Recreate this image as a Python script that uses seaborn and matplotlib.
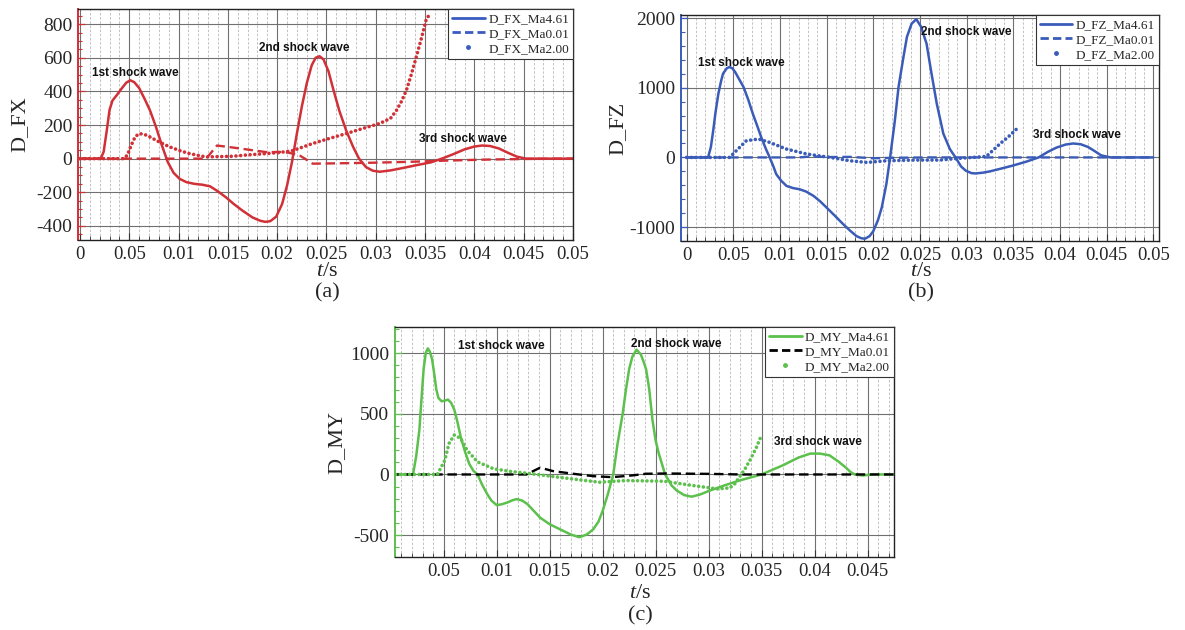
import matplotlib
matplotlib.use("Agg")
import numpy as np
import pandas as pd
import matplotlib.pyplot as plt
import seaborn as sns
from matplotlib.lines import Line2D
from matplotlib.ticker import MultipleLocator, FixedLocator, FixedFormatter

# ---------------- data ----------------
# Panel (a) D_FX
fx_461_t = [0, 0.0021, 0.0024, 0.0027, 0.003, 0.0033, 0.0037, 0.0042, 0.0047, 0.0051, 0.0055,
            0.006, 0.0066, 0.0071, 0.0077, 0.0083, 0.0089, 0.0095, 0.0101, 0.0108, 0.0116,
            0.0124, 0.0132, 0.014, 0.0148, 0.0156, 0.0165, 0.0175, 0.0183, 0.0188, 0.0193,
            0.0199, 0.0205, 0.021, 0.0215, 0.022, 0.0225, 0.023, 0.0235, 0.0239, 0.0243,
            0.0247, 0.0252, 0.0257, 0.0263, 0.027, 0.0277, 0.0283, 0.029, 0.0297, 0.0304,
            0.0315, 0.0328, 0.0342, 0.0356, 0.0367, 0.0378, 0.039, 0.04, 0.0408, 0.0416,
            0.0425, 0.0434, 0.0443, 0.0452, 0.047, 0.05]
fx_461_v = [0, 0, 40, 160, 290, 346, 375, 415, 452, 466, 455,
            420, 350, 287, 190, 80, -20, -85, -120, -140, -150,
            -155, -165, -195, -230, -270, -310, -350, -370, -376, -372,
            -345, -270, -160, -20, 150, 310, 448, 555, 600, 609,
            590, 520, 410, 285, 167, 70, 0, -50, -72, -78,
            -70, -55, -38, -22, 0, 25, 55, 72, 78, 75,
            60, 35, 12, 0, 0, 0]
fx_001_t = [0, 0.0128, 0.0139, 0.0155, 0.0175, 0.019, 0.0202, 0.0212, 0.0223, 0.0228, 0.0236,
            0.026, 0.03, 0.034, 0.037, 0.041, 0.045, 0.05]
fx_001_v = [0, 0, 78, 66, 50, 38, 40, 35, 18, 0, -30,
            -28, -24, -18, -12, -6, -2, 0]
fx_200_t = [0, 0.0044, 0.0048, 0.0052, 0.0056, 0.006, 0.0065, 0.007, 0.0081, 0.0091, 0.0101,
            0.0111, 0.0121, 0.0128, 0.014, 0.0155, 0.017, 0.0189, 0.0202, 0.0216, 0.0236,
            0.025, 0.027, 0.029, 0.0304, 0.0315, 0.0321, 0.0326, 0.0331, 0.0336, 0.0341,
            0.0346, 0.0351, 0.0354]
fx_200_v = [0, 0, 20, 80, 130, 149, 145, 132, 97, 70, 48,
            30, 18, 10, 12, 14, 22, 30, 36, 48, 90,
            115, 149, 185, 209, 240, 287, 340, 406, 500, 603,
            710, 824, 854]

# Panel (b) D_FZ
fz_461_t = [0, 0.0023, 0.0026, 0.00285, 0.0031, 0.0034, 0.0037, 0.0039, 0.0043, 0.0046,
            0.0049, 0.0052, 0.0056, 0.0061, 0.0066, 0.0071, 0.0076, 0.008, 0.0085, 0.0089,
            0.0093, 0.0096, 0.0101, 0.0107, 0.0114, 0.0121, 0.0128, 0.0136, 0.0143, 0.015,
            0.0159, 0.0168, 0.0175, 0.0182, 0.0187, 0.0191, 0.0196, 0.02, 0.0205, 0.0209,
            0.0214, 0.0218, 0.0223, 0.0227, 0.0232, 0.0236, 0.0241, 0.0246, 0.0251, 0.0257,
            0.0262, 0.0268, 0.0275, 0.0282, 0.0288, 0.0294, 0.0299, 0.0305, 0.0309, 0.0317,
            0.0325, 0.0337, 0.035, 0.0364, 0.0377, 0.0387, 0.0396, 0.0406, 0.0414, 0.0422,
            0.043, 0.0436, 0.0444, 0.0454, 0.05]
fz_461_v = [0, 0, 150, 385, 650, 913, 1100, 1202, 1280, 1298,
            1280, 1226, 1130, 1010, 830, 625, 440, 288, 120, 0,
            -130, -240, -330, -409, -440, -457, -490, -553, -630, -721,
            -840, -962, -1050, -1130, -1160, -1168, -1130, -1058, -900, -721,
            -380, 0, 520, 1010, 1420, 1731, 1920, 1985, 1880, 1635,
            1230, 769, 341, 120, 0, -130, -190, -225, -230, -220,
            -200, -160, -115, -60, 0, 80, 140, 185, 200, 190,
            150, 100, 30, 0, 0]
fz_001_t = [0, 0.012, 0.0135, 0.015, 0.0175, 0.02, 0.0225, 0.026, 0.05]
fz_001_v = [0, 0, 15, 5, 8, -12, -5, 0, 0]
fz_200_t = [0, 0.0046, 0.0055, 0.0064, 0.0077, 0.0089, 0.0107, 0.0129, 0.0154, 0.0175,
            0.0193, 0.0214, 0.0243, 0.0271, 0.0295, 0.0321, 0.0328, 0.0336, 0.0345, 0.0354]
fz_200_v = [0, 0, 120, 240, 264, 216, 120, 48, 0, -48,
            -72, -48, -38, -38, -10, 14, 100, 200, 300, 415]

# Panel (c) D_MY
my_461_t = [0, 0.0021, 0.0024, 0.0027, 0.0029, 0.0031, 0.0033, 0.0035, 0.0037, 0.0039,
            0.0041, 0.0043, 0.0045, 0.0048, 0.0051, 0.0054, 0.0057, 0.006, 0.0063, 0.0066,
            0.007, 0.0074, 0.0078, 0.0082, 0.0086, 0.0091, 0.0095, 0.01, 0.0105, 0.011,
            0.0115, 0.0119, 0.0124, 0.0129, 0.0135, 0.0141, 0.015, 0.016, 0.017, 0.0178,
            0.0185, 0.0191, 0.0196, 0.02, 0.0205, 0.021, 0.0214, 0.0219, 0.0222, 0.0225,
            0.0228, 0.0232, 0.0236, 0.0239, 0.0241, 0.0244, 0.0247, 0.025, 0.0253, 0.0259,
            0.0265, 0.027, 0.0277, 0.0284, 0.0292, 0.0301, 0.0315, 0.0329, 0.035, 0.037,
            0.0385, 0.0396, 0.0405, 0.0414, 0.0422, 0.0429, 0.0434, 0.0438, 0.0445, 0.0455,
            0.0475]
my_461_v = [0, 0, 150, 367, 620, 867, 1000, 1039, 1010, 950,
            830, 700, 630, 603, 608, 617, 590, 533, 430, 311,
            190, 89, 30, 0, -80, -161, -215, -253, -245, -231,
            -212, -203, -215, -244, -300, -356, -410, -453, -495, -517,
            -495, -453, -390, -300, -160, 0, 250, 506, 700, 867,
            970, 1028, 990, 920, 867, 700, 450, 280, 172, 0,
            -90, -133, -170, -183, -165, -133, -90, -50, 0, 75,
            140, 172, 172, 158, 110, 61, 20, 0, -8, 0,
            0]
my_001_t = [0, 0.0128, 0.0141, 0.0153, 0.0172, 0.0191, 0.0209, 0.0228, 0.0241, 0.026, 0.03,
            0.033, 0.0475]
my_001_v = [0, 0, 56, 28, 6, -14, -22, -8, 6, 8, 5, 0, 0]
my_200_t = [0, 0.0044, 0.0051, 0.0055, 0.006, 0.0066, 0.0072, 0.0082, 0.0097, 0.0113,
            0.0128, 0.0153, 0.0178, 0.0197, 0.0222, 0.0258, 0.0286, 0.0308, 0.032, 0.0325,
            0.0329, 0.0334, 0.0339, 0.0345, 0.035]
my_200_v = [0, 0, 117, 256, 325, 297, 200, 103, 47, 25,
            11, -17, -44, -64, -50, -56, -92, -119, -111, -75,
            -22, 40, 117, 220, 325]

xticks_ab = [0, 0.005, 0.01, 0.015, 0.02, 0.025, 0.03, 0.035, 0.04, 0.045, 0.05]
xlabels_ab = ["0", "0.05", "0.01", "0.015", "0.02", "0.025", "0.03", "0.035", "0.04", "0.045", "0.05"]
xticks_c = [0.005, 0.01, 0.015, 0.02, 0.025, 0.03, 0.035, 0.04, 0.045]
xlabels_c = ["0.05", "0.01", "0.015", "0.02", "0.025", "0.03", "0.035", "0.04", "0.045"]
yticks_a = [-400, -200, 0, 200, 400, 600, 800]
yticks_b = [-1000, 0, 1000, 2000]
yticks_c = [-500, 0, 500, 1000]

labels_a = ["D_FX_Ma4.61", "D_FX_Ma0.01", "D_FX_Ma2.00"]
labels_b = ["D_FZ_Ma4.61", "D_FZ_Ma0.01", "D_FZ_Ma2.00"]
labels_c = ["D_MY_Ma4.61", "D_MY_Ma0.01", "D_MY_Ma2.00"]
waves = ["1st shock wave", "2nd shock wave", "3rd shock wave"]

# ---------------- style ----------------
sns.set_style("ticks")
plt.rcParams["font.family"] = ["Liberation Serif", "DejaVu Serif"]
plt.rcParams["mathtext.fontset"] = "custom"
plt.rcParams["mathtext.it"] = "Liberation Serif:italic"
plt.rcParams["mathtext.rm"] = "Liberation Serif"
plt.rcParams["axes.unicode_minus"] = False

RED = "#d03036"
BLUE = "#3a5cb8"
GREEN = "#5cc04c"
LEG_BLUE = "#3a5cc0"

DASH = (0, (4, 2))
DOT = (0, (0.01, 1.3))

fig = plt.figure(figsize=(11.85, 6.3), dpi=100)
W, H = 1185, 630


def add_axes_px(x0, y0, x1, y1):
    return fig.add_axes([x0 / W, 1 - y1 / H, (x1 - x0) / W, (y1 - y0) / H])


def draw_series(ax, t, v, color, style, lw):
    df = pd.DataFrame({"t": t, "v": v})
    kw = dict(data=df, x="t", y="v", ax=ax, color=color, estimator=None, sort=False,
              legend=False, lw=lw)
    if style == "dot":
        sns.lineplot(**kw, linestyle=DOT, dash_capstyle="round")
    elif style == "dash":
        sns.lineplot(**kw, linestyle=DASH)
    else:
        sns.lineplot(**kw, solid_joinstyle="round")


def style_axes(ax, xlim, ylim, xticks, xlabels, yticks, yminor, scol, ylabel):
    ax.set_xlim(*xlim)
    ax.set_ylim(*ylim)
    ax.xaxis.set_major_locator(FixedLocator(xticks))
    ax.xaxis.set_major_formatter(FixedFormatter(xlabels))
    ax.xaxis.set_minor_locator(MultipleLocator(0.001))
    ax.yaxis.set_major_locator(FixedLocator(yticks))
    ax.yaxis.set_minor_locator(MultipleLocator(yminor))
    ax.set_axisbelow(True)
    ax.grid(which="major", axis="x", color="#707070", lw=0.8, ls="-")
    ax.grid(which="minor", axis="x", color="#b8b8b8", lw=0.6, ls=(0, (3, 2)))
    ax.grid(which="major", axis="y", color="#707070", lw=0.8, ls="-")
    for s in ["top", "right", "bottom"]:
        ax.spines[s].set_visible(True)
        ax.spines[s].set_color("#222222")
        ax.spines[s].set_linewidth(1.0)
    ax.spines["left"].set_color(scol)
    ax.spines["left"].set_linewidth(1.4)
    ax.tick_params(axis="x", which="major", direction="in", length=5, width=0.8,
                   labelsize=13.5, pad=4, color="#333333")
    ax.tick_params(axis="x", which="minor", direction="in", length=3, width=0.6, color="#333333")
    ax.tick_params(axis="y", which="major", direction="in", length=5, width=0.9,
                   labelsize=14, pad=4, color=scol)
    ax.tick_params(axis="y", which="minor", direction="in", length=3, width=0.8, color=scol)
    ax.set_xlabel("")
    ax.set_ylabel(ylabel, fontsize=16, labelpad=6)


def add_legend(ax, labels, c_solid, c_dash, c_dot):
    handles = [Line2D([], [], color=c_solid, lw=2.0),
               Line2D([], [], color=c_dash, lw=2.0, ls=(0, (3, 1.5))),
               Line2D([], [], color=c_dot, ls="none", marker="o", markersize=2.5)]
    leg = ax.legend(handles, labels, loc="upper right", fontsize=9.5, frameon=True,
                    fancybox=False, framealpha=1, edgecolor="#333333", borderaxespad=0.0,
                    handlelength=2.5, handletextpad=0.25, borderpad=0.3, labelspacing=0.2,
                    numpoints=1)
    leg.get_frame().set_linewidth(0.8)
    leg.set_zorder(10)


def wave_text(ax, x, y, s):
    ax.text(x, y, s, ha="center", va="center", fontsize=8.5, fontweight="bold",
            family=["Liberation Sans", "DejaVu Sans"], color="#111111", zorder=5)


# ---------------- panel (a) ----------------
ax_a = add_axes_px(78, 9, 573, 240)
draw_series(ax_a, fx_461_t, fx_461_v, RED, "solid", 1.8)
draw_series(ax_a, fx_001_t, fx_001_v, RED, "dash", 1.7)
draw_series(ax_a, fx_200_t, fx_200_v, RED, "dot", 2.6)
style_axes(ax_a, (-0.0002, 0.05), (-484, 890), xticks_ab, xlabels_ab, yticks_a, 50, RED, "D_FX")
add_legend(ax_a, labels_a, LEG_BLUE, LEG_BLUE, LEG_BLUE)
wave_text(ax_a, 0.0056, 507, waves[0])
wave_text(ax_a, 0.0227, 657, waves[1])
wave_text(ax_a, 0.0388, 119, waves[2])
ax_a.yaxis.set_label_coords(-0.099, 0.5)

# ---------------- panel (b) ----------------
ax_b = add_axes_px(681, 15, 1159, 241)
draw_series(ax_b, fz_461_t, fz_461_v, BLUE, "solid", 1.8)
draw_series(ax_b, fz_001_t, fz_001_v, BLUE, "dash", 1.7)
draw_series(ax_b, fz_200_t, fz_200_v, BLUE, "dot", 2.6)
style_axes(ax_b, (-0.0006, 0.0506), (-1200, 2045), xticks_ab, xlabels_ab, yticks_b, 200, BLUE, "D_FZ")
add_legend(ax_b, labels_b, BLUE, BLUE, BLUE)
wave_text(ax_b, 0.0059, 1353, waves[0])
wave_text(ax_b, 0.0300, 1799, waves[1])
wave_text(ax_b, 0.0418, 317, waves[2])
ax_b.yaxis.set_label_coords(-0.113, 0.5)

# ---------------- panel (c) ----------------
ax_c = add_axes_px(395, 327, 894, 557)
draw_series(ax_c, my_461_t, my_461_v, GREEN, "solid", 1.8)
draw_series(ax_c, my_001_t, my_001_v, "black", "dash", 1.7)
draw_series(ax_c, my_200_t, my_200_v, GREEN, "dot", 2.6)
style_axes(ax_c, (0.0004, 0.0475), (-680, 1215), xticks_c, xlabels_c, yticks_c, 100, GREEN, "D_MY")
add_legend(ax_c, labels_c, GREEN, "black", GREEN)
wave_text(ax_c, 0.0104, 1055, waves[0])
wave_text(ax_c, 0.0269, 1079, waves[1])
wave_text(ax_c, 0.0403, 264, waves[2])
ax_c.yaxis.set_label_coords(-0.097, 0.5)

# ---------------- x labels and captions ----------------
for cx, y1, y2, cap in [(327, 271, 293, "(a)"), (921, 271, 293, "(b)"), (640, 593, 616, "(c)")]:
    fig.text(cx / W, 1 - y1 / H, r"$t$/s", ha="center", va="center", fontsize=16)
    fig.text(cx / W, 1 - y2 / H, cap, ha="center", va="center", fontsize=16)

fig.savefig("out.png", dpi=100)
